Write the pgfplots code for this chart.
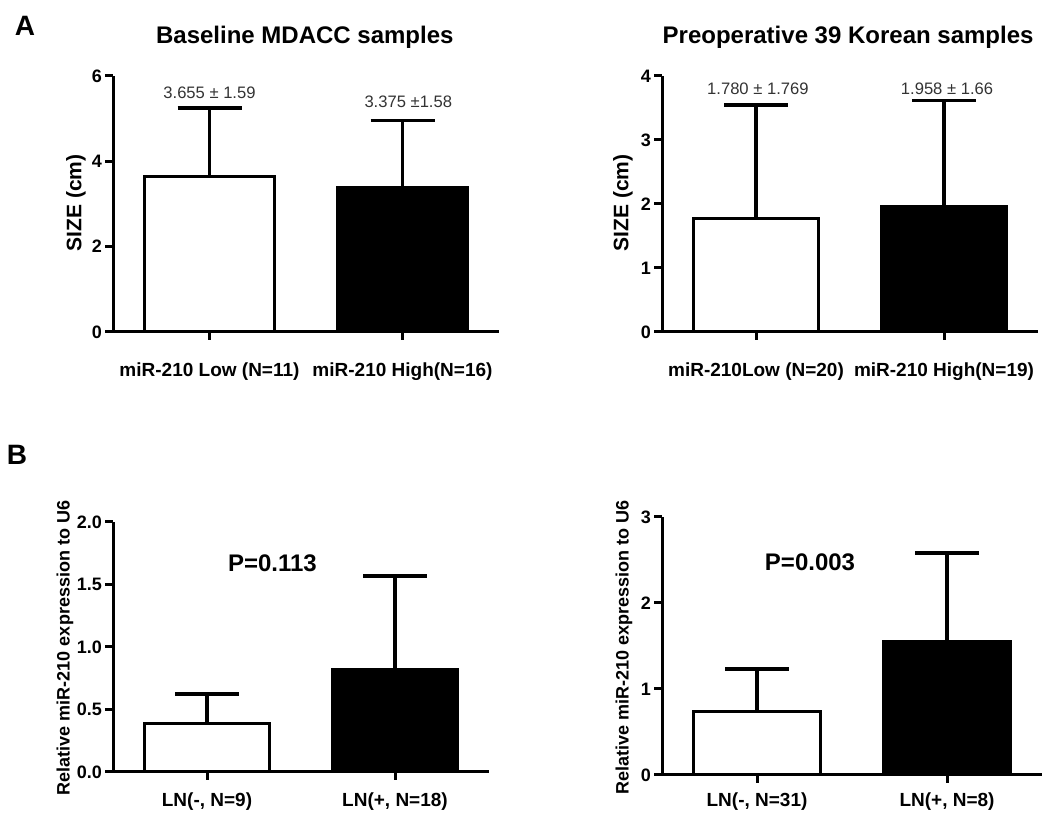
\documentclass[border=0pt]{standalone}
\usepackage{fontspec}
\setmainfont{Liberation Sans}
\usepackage{pgfplots}
\pgfplotsset{compat=1.18}

\pgfplotsset{
  panel/.style={
    scale only axis,
    axis x line*=bottom, axis y line*=left,
    axis line style={line width=1.5pt, black},
    xmin=-0.5, xmax=1.5, ymin=0,
    xtick={0,1},
    tick align=outside,
    major tick length=4pt,
    tick style={line width=1.5pt, black},
    /pgf/number format/assume math mode=true,
    yticklabel style={font=\bfseries\fontsize{9}{10}\selectfont, xshift=2pt},
    xticklabel style={font=\bfseries\fontsize{9.5}{11}\selectfont},
    ylabel style={font=\bfseries\fontsize{10.5}{12}\selectfont, anchor=center},
    title style={font=\bfseries\fontsize{12}{14}\selectfont, anchor=center},
    every axis title shift=0pt,
    clip=false,
  },
  wbar/.style={ybar, bar shift=0pt, bar width=0.67, fill=white, draw=black, line width=1.5pt,
    error bars/.cd, y dir=plus, y explicit,
    error bar style={line width=1.7pt, black},
    error mark options={rotate=90, line width=1.7pt, mark size=16pt, black}},
  bbar/.style={ybar, bar shift=0pt, bar width=0.67, fill=black, draw=black, line width=1.5pt,
    error bars/.cd, y dir=plus, y explicit,
    error bar style={line width=1.7pt, black},
    error mark options={rotate=90, line width=1.7pt, mark size=16pt, black}},
}
\tikzset{
  annot/.style={font=\fontsize{8.3}{9}\selectfont, text=black!80},
  pval/.style={font=\bfseries\fontsize{12}{14}\selectfont},
}

\begin{document}
\begin{tikzpicture}
\path (0,0) rectangle (526pt,406.5pt);

\node[font=\bfseries\fontsize{14}{16}\selectfont] at (12.5pt,393.5pt) {A};
\node[font=\bfseries\fontsize{14}{16}\selectfont] at (8.5pt,179pt) {B};

% A-left
\begin{axis}[panel, at={(56.5pt,240.5pt)}, anchor=south west,
  width=193pt, height=128pt, ymax=6, ytick={0,2,4,6},
  xticklabels={miR-210 Low (N=11), miR-210 High(N=16)},
  xticklabel style={yshift=-8pt},
  ylabel={SIZE (cm)}, ylabel style={at={(axis description cs:-0.096,0.504)}},
  title={Baseline MDACC samples}, title style={at={(axis description cs:0.497,1.152)}}]
\addplot[wbar] coordinates {(0,3.655) +- (0,1.59)};
\addplot[bbar] coordinates {(1,3.375) +- (0,1.58)};
\node[annot] at (axis cs:0,5.60) {3.655 ± 1.59};
\node[annot] at (axis cs:1.03,5.39) {3.375 ±1.58};
\end{axis}

% A-right
\begin{axis}[panel, at={(331pt,240.5pt)}, anchor=south west,
  width=188pt, height=128pt, ymax=4, ytick={0,1,2,3,4},
  xticklabels={miR-210Low (N=20), miR-210 High(N=19)},
  xticklabel style={yshift=-8pt},
  ylabel={SIZE (cm)}, ylabel style={at={(axis description cs:-0.104,0.504)}},
  title={Preoperative 39 Korean samples}, title style={at={(axis description cs:0.495,1.152)}}]
\addplot[wbar] coordinates {(0,1.780) +- (0,1.769)};
\addplot[bbar] coordinates {(1,1.958) +- (0,1.66)};
\node[annot] at (axis cs:0.01,3.80) {1.780 ± 1.769};
\node[annot] at (axis cs:1.016,3.80) {1.958 ± 1.66};
\end{axis}

% B-left
\begin{axis}[panel, at={(56.5pt,20.5pt)}, anchor=south west,
  width=188pt, height=125pt, ymax=2, ytick={0,0.5,1,1.5,2},
  yticklabel style={/pgf/number format/.cd, fixed, fixed zerofill, precision=1},
  xticklabels={{LN(-, N=9)},{LN(+, N=18)}},
  xticklabel style={yshift=-3pt},
  ylabel={Relative miR-210 expression to U6},
  ylabel style={font=\bfseries\fontsize{9}{11}\selectfont, at={(axis description cs:-0.128,0.496)}}]
\addplot[wbar] coordinates {(0,0.384) +- (0,0.24)};
\addplot[bbar] coordinates {(1,0.816) +- (0,0.752)};
\node[pval] at (axis cs:0.348,1.672) {P=0.113};
\end{axis}

% B-right
\begin{axis}[panel, at={(331pt,19pt)}, anchor=south west,
  width=190pt, height=129pt, ymax=3, ytick={0,1,2,3},
  xticklabels={{LN(-, N=31)},{LN(+, N=8)}},
  xticklabel style={yshift=-1.5pt},
  ylabel={Relative miR-210 expression to U6},
  ylabel style={font=\bfseries\fontsize{9}{11}\selectfont, at={(axis description cs:-0.1,0.496)}}]
\addplot[wbar] coordinates {(0,0.744) +- (0,0.489)};
\addplot[bbar] coordinates {(1,1.547) +- (0,1.035)};
\node[pval] at (axis cs:0.279,2.477) {P=0.003};
\end{axis}
\end{tikzpicture}
\end{document}
